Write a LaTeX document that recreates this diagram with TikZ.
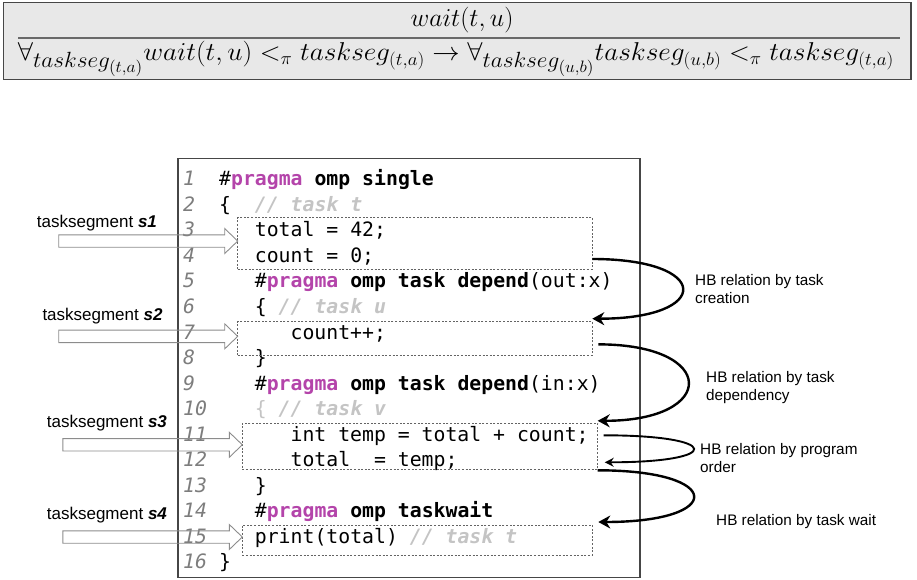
\RequirePackage{fix-cm}
\documentclass[tikz,border=0pt]{standalone}
\usepackage{fontspec}
\usepackage{graphicx}
\usetikzlibrary{arrows.meta,calc}

\newfontfamily\codefont{DejaVu Sans Mono}
\newfontfamily\labelfont{Liberation Sans}

\definecolor{pragmacol}{RGB}{180,68,170}
\definecolor{commentcol}{RGB}{196,196,196}
\definecolor{linenocol}{RGB}{125,125,125}
\definecolor{framecol}{RGB}{70,70,70}
\definecolor{topfill}{RGB}{232,232,232}
\definecolor{rulecol}{RGB}{105,105,105}
\definecolor{segcol}{RGB}{100,100,100}
\definecolor{hollowcol}{RGB}{140,140,140}

% math sizes for the rule
\DeclareMathSizes{25.8}{25.8}{18}{13}
\DeclareMathSizes{22}{22}{16.5}{12}
\newcommand\qsub[1]{\mbox{\fontsize{22}{26}\selectfont$#1$}}

% code markup helpers
\newcommand\prag{\#\textbf{\color{pragmacol}pragma}}
\newcommand\cmt[1]{{\color{commentcol}\bfseries\itshape #1}}

\tikzset{
  mathtext/.style={inner sep=0pt, anchor=base, font=\fontsize{25.8}{31}\selectfont},
  codeframe/.style={draw=framecol, line width=1.6pt},
  lineno/.style={anchor=base west, inner sep=0pt, text=linenocol,
    font=\codefont\fontsize{19.8}{24}\selectfont\itshape},
  codeline/.style={anchor=base west, inner sep=0pt,
    font=\codefont\fontsize{19.8}{24}\selectfont},
  segbox/.style={draw=segcol, line width=0.8pt, dash pattern=on 2pt off 1.6pt,
    inner sep=0pt, outer sep=0pt},
  seglabel/.style={anchor=base west, inner sep=0pt,
    font=\labelfont\fontsize{17}{20}\selectfont},
  hblabel/.style={anchor=north west, inner sep=0pt, align=left,
    font=\labelfont\fontsize{15.3}{18.2}\selectfont},
  hbarrow/.style={line width=2.4pt, -{Stealth[length=12pt,width=13pt]}},
  hbarrowthin/.style={line width=1.9pt, -{Stealth[length=9pt,width=9pt]}},
  hollow/.style={draw=hollowcol, line width=0.9pt},
  segarrow/.pic={
    \draw[hollow] (0,0) -- (-13,-12.5) -- (-13,-6.2) -- (-#1,-6.2)
      -- (-#1,6.2) -- (-13,6.2) -- (-13,12.5) -- cycle;
  }
}

\begin{document}
\begin{tikzpicture}[x=1pt,y=-1pt]
\useasboundingbox (0,0) rectangle (917,580);

% inference rule
\draw[draw=framecol, line width=1.5pt, fill=topfill] (3.5,2.5) rectangle (911,79.5);
\node[mathtext] (num) at (462,27) {$wait(t,u)$};
\draw[rulecol, line width=2pt] (18,38) -- (900,38);
\node[mathtext] (den) at (456,61)
  {\resizebox{876pt}{\height}{$\forall_{\qsub{taskseg_{(t,a)}}} wait(t,u) <_{\pi} taskseg_{(t,a)} \rightarrow
    \forall_{\qsub{taskseg_{(u,b)}}} taskseg_{(u,b)} <_{\pi} taskseg_{(t,a)}$}};

% code listing frame
\draw[codeframe] (178,158.5) rectangle (640,577.5);

% line numbers
\foreach \i in {1,...,16}
  \node[lineno] (n\i) at (183,{185.7+(\i-1)*25.55}) {\i};

% code lines
\node[codeline] (c1)  at (219,185.7)  {\prag{} \textbf{omp single}};
\node[codeline] (c2)  at (219,211.25) {\{\ \ \cmt{// task t}};
\node[codeline] (c3)  at (254.7,236.8)  {total = 42;};
\node[codeline] (c4)  at (254.7,262.35) {count = 0;};
\node[codeline] (c5)  at (254.7,287.9)  {\prag{} \textbf{omp task depend}(out:x)};
\node[codeline] (c6)  at (254.7,313.45) {\{ \cmt{// task u}};
\node[codeline] (c7)  at (290.4,339.0)  {count++;};
\node[codeline] (c8)  at (254.7,364.55) {\}};
\node[codeline] (c9)  at (254.7,390.1)  {\prag{} \textbf{omp task depend}(in:x)};
\node[codeline] (c10) at (254.7,415.65) {{\color{commentcol}\{} \cmt{// task v}};
\node[codeline] (c11) at (290.4,441.2)  {int temp = total + count;};
\node[codeline] (c12) at (290.4,466.75) {total\ \ = temp;};
\node[codeline] (c13) at (254.7,492.3)  {\}};
\node[codeline] (c14) at (254.7,517.85) {\prag{} \textbf{omp taskwait}};
\node[codeline] (c15) at (254.7,543.4)  {print(total) \cmt{// task t}};
\node[codeline] (c16) at (219,568.95)   {\}};

% task segments
\node[segbox, minimum width=354.6pt, minimum height=51.3pt] (b1) at (415,243.35) {};
\node[segbox, minimum width=354.6pt, minimum height=33.3pt] (b2) at (415,338.35) {};
\node[segbox, minimum width=355.4pt, minimum height=46pt]   (b3) at (420,446.3) {};
\node[segbox, minimum width=350pt,   minimum height=30pt]   (b4) at (417.3,540) {};

% segment labels and hollow pointers
\node[seglabel] (l1) at (36.7,227.3) {tasksegment \textbf{\textit{s1}}};
\node[seglabel] (l2) at (42.3,320)   {tasksegment \textbf{\textit{s2}}};
\node[seglabel] (l3) at (46.7,427.3) {tasksegment \textbf{\textit{s3}}};
\node[seglabel] (l4) at (46.7,519.3) {tasksegment \textbf{\textit{s4}}};

\pic at ([yshift=2.3pt]b1.west) {segarrow=179};
\pic at ([yshift=2pt]b2.west)   {segarrow=179};
\pic at ([yshift=1.5pt]b3.west) {segarrow=179.4};
\pic at ([yshift=3pt]b4.west)   {segarrow=179.4};

% happens-before relations
\draw[hbarrow] ([yshift=10pt]b1.south east)
  to[out=0,in=0,distance=120pt] ([yshift=3pt]b2.north east);
\draw[hbarrow] ([xshift=6pt,yshift=-6pt]b2.east)
  to[out=0,in=0,distance=120pt] ([yshift=2.5pt]b3.north east);
\draw[hbarrowthin] ([xshift=6pt,yshift=11pt]b3.east)
  to[out=0,in=0,distance=119pt] ([xshift=7pt,yshift=-16pt]b3.east);
\draw[hbarrow] ([yshift=-1pt]b3.south east)
  to[out=0,in=0,distance=127pt] ([xshift=6pt,yshift=3pt]b4.north east);

\node[hblabel] (h1) at (695,273.8) {HB relation by task\\creation};
\node[hblabel] (h2) at (706,371.1) {HB relation by task\\dependency};
\node[hblabel] (h3) at (700,443.1) {HB relation by program\\order};
\node[hblabel, anchor=base west] (h4) at (716,525.3) {HB relation by task wait};
\end{tikzpicture}
\end{document}
